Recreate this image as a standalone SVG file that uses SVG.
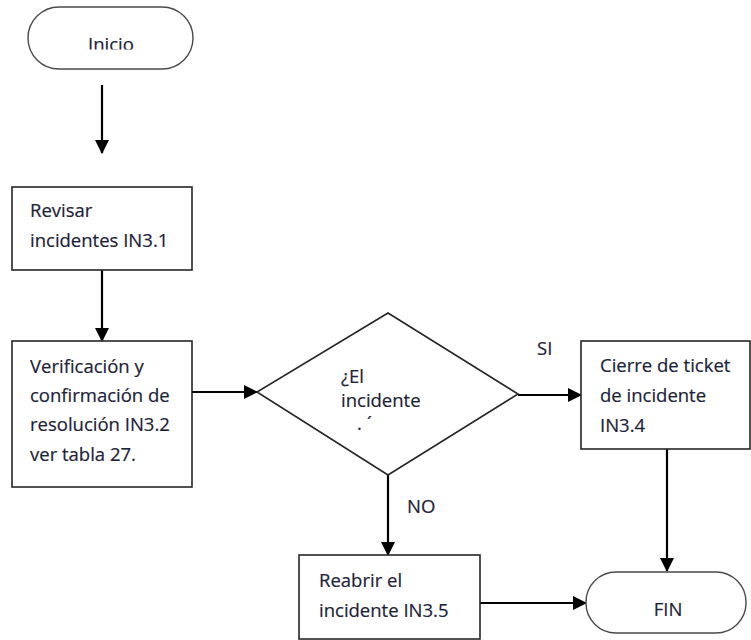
<svg xmlns="http://www.w3.org/2000/svg" width="751" height="640" viewBox="0 0 751 640">
  <style>
    .box { fill: #ffffff; stroke: #262626; stroke-width: 1.6; }
    .term { fill: #ffffff; stroke: #4a4a4a; stroke-width: 1.4; }
    .lbl { font-family: "Open Sans", "Noto Sans", sans-serif; font-size: 18.5px; fill: #1c2238; stroke: #1c2238; stroke-width: 0.2; }
    .conn { fill: none; stroke: #000000; stroke-width: 2.2; }
  </style>
  <defs>
    <marker id="arrow" markerUnits="userSpaceOnUse" markerWidth="14" markerHeight="14" refX="13" refY="7" orient="auto">
      <path d="M0,0 L14,7 L0,14 Z" fill="#000000"/>
    </marker>
    <clipPath id="clipInicio">
      <rect x="28" y="7" width="165" height="42.5"/>
    </clipPath>
  </defs>

  <!-- connectors -->
  <g id="connectors">
    <line class="conn" x1="102" y1="85" x2="102" y2="153" marker-end="url(#arrow)"/>
    <line class="conn" x1="102" y1="270" x2="102" y2="341" marker-end="url(#arrow)"/>
    <line class="conn" x1="192" y1="392" x2="257" y2="392" marker-end="url(#arrow)"/>
    <line class="conn" x1="518" y1="395" x2="581" y2="395" marker-end="url(#arrow)"/>
    <line class="conn" x1="388" y1="475" x2="388" y2="555" marker-end="url(#arrow)"/>
    <line class="conn" x1="667" y1="449" x2="667" y2="571" marker-end="url(#arrow)"/>
    <line class="conn" x1="480" y1="603" x2="586" y2="603" marker-end="url(#arrow)"/>
    <text class="lbl" x="537" y="355" font-size="17">SI</text>
    <text class="lbl" x="407" y="513" font-size="17">NO</text>
  </g>

  <!-- start terminal -->
  <g id="inicio">
    <rect class="term" x="28" y="7" width="165" height="62" rx="31" ry="31"/>
    <text class="lbl" x="111" y="51" text-anchor="middle" font-size="21.5" clip-path="url(#clipInicio)">Inicio</text>
  </g>

  <!-- IN3.1 -->
  <g id="revisar">
    <rect class="box" x="12" y="187" width="180" height="83"/>
    <text class="lbl" x="30" y="217">Revisar</text>
    <text class="lbl" x="30" y="247">incidentes IN3.1</text>
  </g>

  <!-- IN3.2 -->
  <g id="verificacion">
    <rect class="box" x="12" y="341" width="180" height="146"/>
    <text class="lbl" x="30" y="373">Verificación y</text>
    <text class="lbl" x="30" y="402">confirmación de</text>
    <text class="lbl" x="30" y="431">resolución IN3.2</text>
    <text class="lbl" x="30" y="461">ver tabla 27.</text>
  </g>

  <!-- decision -->
  <g id="decision">
    <polygon class="box" points="388,313 518,394 388,475 257,392" stroke="#333333" stroke-width="1.4"/>
    <text class="lbl" x="341" y="383">¿El</text>
    <text class="lbl" x="341" y="407">incidente</text>
    <text class="lbl" x="357" y="430" font-size="12">.  ´</text>
  </g>

  <!-- IN3.4 -->
  <g id="cierre">
    <rect class="box" x="581" y="341" width="169" height="108"/>
    <text class="lbl" x="600" y="372">Cierre de ticket</text>
    <text class="lbl" x="600" y="402">de incidente</text>
    <text class="lbl" x="600" y="432">IN3.4</text>
  </g>

  <!-- IN3.5 -->
  <g id="reabrir">
    <rect class="box" x="299" y="555" width="181" height="84"/>
    <text class="lbl" x="319" y="587">Reabrir el</text>
    <text class="lbl" x="319" y="617">incidente IN3.5</text>
  </g>

  <!-- end terminal -->
  <g id="fin">
    <rect class="term" x="586" y="572" width="160" height="61" rx="30" ry="30"/>
    <text class="lbl" x="668" y="616" text-anchor="middle" font-size="20">FIN</text>
  </g>
</svg>
